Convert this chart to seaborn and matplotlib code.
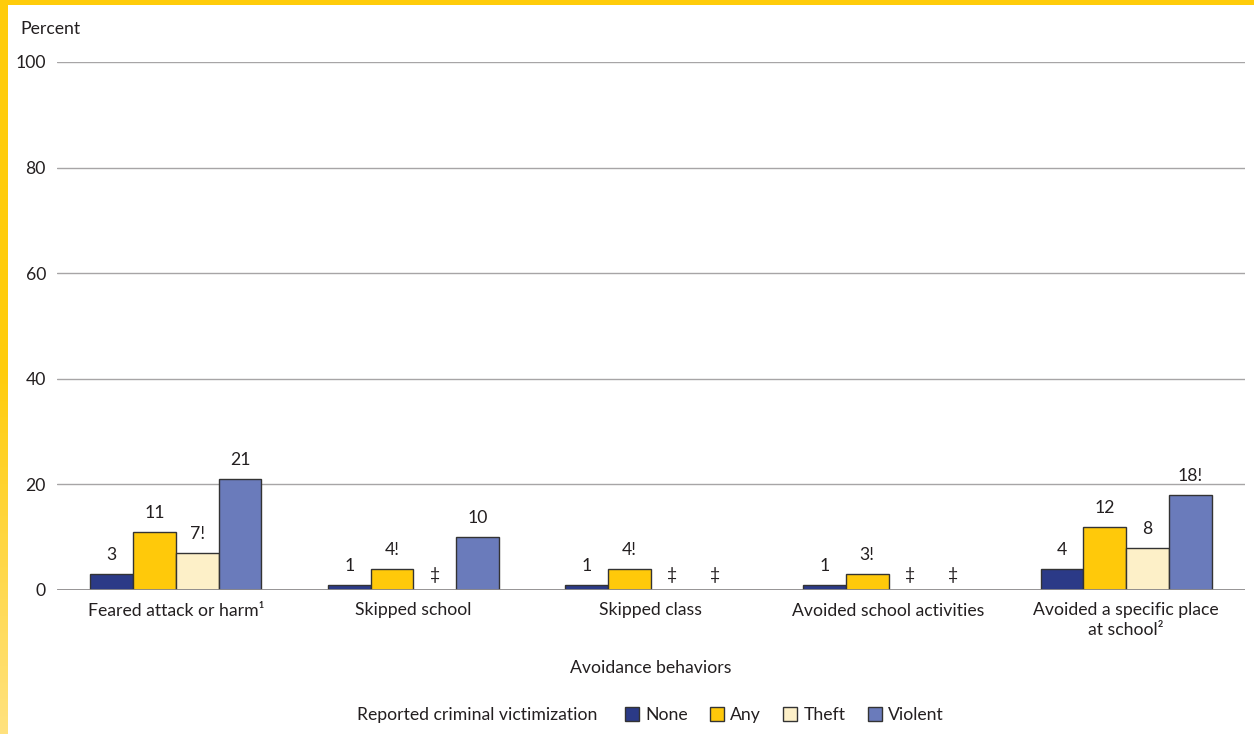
import numpy as np
import pandas as pd
import matplotlib
matplotlib.use("Agg")
import matplotlib.pyplot as plt
from matplotlib.patches import Rectangle, Patch
from matplotlib.colors import LinearSegmentedColormap
import seaborn as sns

categories = ["Feared attack or harm\u00b9", "Skipped school", "Skipped class",
              "Avoided school activities", "Avoided a specific place\nat school\u00b2"]
series = ["None", "Any", "Theft", "Violent"]
none_vals = [3, 1, 1, 1, 4]
any_vals = [11, 4, 4, 3, 12]
theft_vals = [7, np.nan, np.nan, np.nan, 8]
violent_vals = [21, 10, np.nan, np.nan, 18]
none_lbl = ["3", "1", "1", "1", "4"]
any_lbl = ["11", "4!", "4!", "3!", "12"]
theft_lbl = ["7!", "\u2021", "\u2021", "\u2021", "8"]
violent_lbl = ["21", "10", "\u2021", "\u2021", "18!"]
yticks = [0, 20, 40, 60, 80, 100]

colors = {"None": "#2B3A87", "Any": "#FFC90A", "Theft": "#FDF0C8", "Violent": "#6A7BBB"}

sns.set_theme(style="white")
plt.rcParams["font.family"] = ["Lato", "DejaVu Sans"]
TXT = "#231F20"
FS = 12.7

rows = []
vals = {"None": none_vals, "Any": any_vals, "Theft": theft_vals, "Violent": violent_vals}
lbls = {"None": none_lbl, "Any": any_lbl, "Theft": theft_lbl, "Violent": violent_lbl}
for s in series:
    for c, v in zip(categories, vals[s]):
        rows.append({"cat": c, "series": s, "value": 0.0 if np.isnan(v) else v})
df = pd.DataFrame(rows)

fig = plt.figure(figsize=(12.54, 7.34), dpi=100)
ax = fig.add_axes([57/1254, 1-590/734, (1245-57)/1254, (590-62)/734])

sns.barplot(data=df, x="cat", y="value", hue="series", order=categories,
            hue_order=series, palette=colors, width=0.72, edgecolor="#333333",
            linewidth=1.0, saturation=1, ax=ax, legend=False, errorbar=None)

for cont, s in zip(ax.containers, series):
    for patch, lab, v in zip(cont.patches, lbls[s], vals[s]):
        xc = patch.get_x() + patch.get_width() / 2
        if np.isnan(v):
            patch.set_visible(False)
            ax.annotate(lab, (xc, 0), xytext=(0, 5), textcoords="offset points",
                        ha="center", va="bottom", fontsize=FS, color=TXT)
        else:
            ax.annotate(lab, (xc, v), xytext=(0, 8), textcoords="offset points",
                        ha="center", va="bottom", fontsize=FS, color=TXT)

ax.set_xlim(-0.5, 4.5)
ax.set_ylim(0, 100)
ax.set_yticks(yticks)
ax.set_yticklabels([str(t) for t in yticks], fontsize=FS, color=TXT)
ax.tick_params(axis="y", length=0, pad=8)
ax.tick_params(axis="x", length=0, pad=9, labelsize=FS, labelcolor=TXT)
for t in ax.get_xticklabels():
    t.set_linespacing(1.25)
ax.set_xlabel("")
ax.set_ylabel("")
for sp in ax.spines.values():
    sp.set_visible(False)
ax.grid(False)
for t in yticks[1:]:
    ax.axhline(t, color="#A7A5A6", linewidth=1.0, zorder=0)
ax.axhline(0, color="#8C8A8B", linewidth=2.0, zorder=3)

fig.text(20/1254, 1-29/734, "Percent", fontsize=FS, color=TXT, ha="left", va="center")
fig.text(651/1254, 1-668/734, "Avoidance behaviors", fontsize=FS, color=TXT,
         ha="center", va="center")
fig.text(357/1254, 1-715/734, "Reported criminal victimization", fontsize=FS,
         color=TXT, ha="left", va="center")
handles = [Patch(facecolor=colors[s], edgecolor="#333333", linewidth=1.0, label=s)
           for s in series]
leg = fig.legend(handles=handles, loc="center left", bbox_to_anchor=(625/1254, 1-715/734),
                 ncol=4, frameon=False, fontsize=FS, handlelength=0.8, handleheight=0.8,
                 handletextpad=0.35, columnspacing=1.25, borderaxespad=0, borderpad=0)
for t in leg.get_texts():
    t.set_color(TXT)

# yellow border
fig.add_artist(Rectangle((0, 1-5/734), 1, 5/734, transform=fig.transFigure,
                         facecolor="#FFCC0A", edgecolor="none", zorder=10))
bax = fig.add_axes([0, 0, 8/1254, 1])
grad = np.linspace(0, 1, 256).reshape(-1, 1)
cm = LinearSegmentedColormap.from_list("y", ["#FFCC0A", "#FFCC0A", "#FFE27E"])
bax.imshow(grad, aspect="auto", cmap=cm, extent=(0, 1, 1, 0))
bax.set_axis_off()

fig.savefig("out.png", dpi=100, facecolor="white")
